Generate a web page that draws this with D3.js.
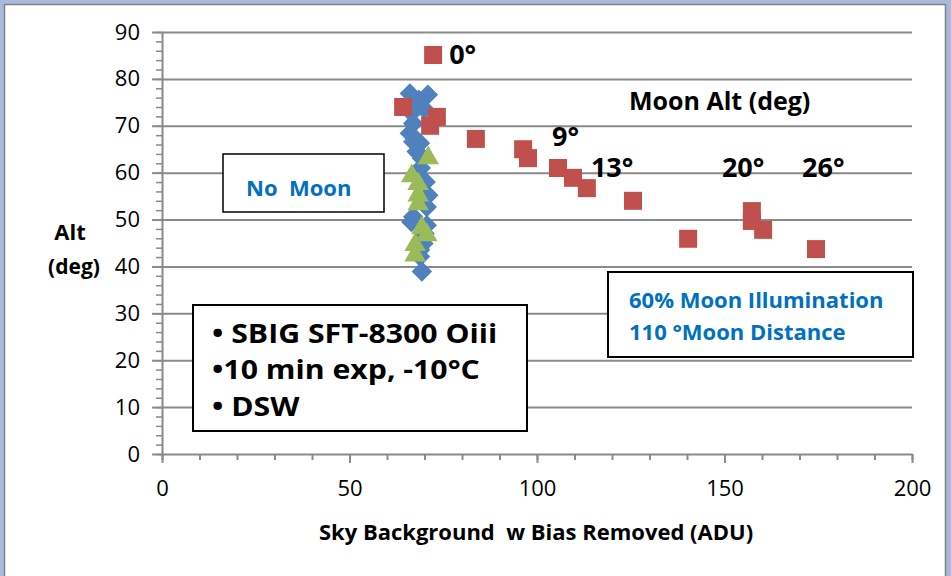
<!DOCTYPE html>
<html>
<head>
<meta charset="utf-8">
<script src="https://cdn.jsdelivr.net/npm/d3@7"></script>
<style>
  html, body { margin: 0; padding: 0; background: #ffffff; }
  svg text { font-family: "Open Sans", "Noto Sans", sans-serif; white-space: pre; }
</style>
</head>
<body>
<svg id="chart" width="951" height="576"></svg>
<script>
// Sky background vs altitude: no-moon runs and moonlit runs
const noMoonX = [66.1, 70.9, 68.5, 67.9, 70.0, 66.6, 67.0, 66.1, 67.0, 68.8, 67.9, 69.3, 69.0, 70.3, 71.0, 70.6, 67.0, 66.5, 70.6, 70.0, 69.7, 68.8, 68.8, 69.3];
const noMoonY = [76.9, 76.6, 75.5, 74.9, 73.5, 72.7, 70.5, 68.4, 66.6, 66.3, 64.5, 63.1, 61.0, 58.0, 55.2, 52.7, 50.6, 49.5, 48.8, 47.0, 44.9, 43.5, 42.1, 38.9];

const moonX = [72.3, 64.3, 73.3, 71.5, 83.7, 96.3, 97.6, 105.6, 109.6, 113.3, 125.6, 140.3, 157.3, 157.3, 160.3, 174.4];
const moonY = [85.1, 74.0, 71.9, 70.0, 67.2, 65.0, 63.1, 61.0, 58.9, 56.7, 54.0, 45.9, 51.8, 49.7, 47.8, 43.7];

const noMoon2X = [71.0, 66.6, 68.3, 68.3, 68.3, 69.3, 70.6, 67.5, 67.5];
const noMoon2Y = [63.1, 59.3, 57.6, 55.2, 53.3, 48.2, 46.7, 44.6, 42.4];

// Moon altitude annotations placed beside selected moonlit points
const moonAltLabels = ["0°", "9°", "13°", "20°", "26°"];
const moonAltAtX = [72.3, 97.6, 113.3, 157.3, 174.4];
const moonAltAtY = [85.1, 63.1, 56.7, 49.7, 43.7];

const xTicks = [0, 50, 100, 150, 200];
const yTicks = [0, 10, 20, 30, 40, 50, 60, 70, 80, 90];

const svg = d3.select("#chart");

// frame
svg.append("rect").attr("x", 0).attr("y", 0).attr("width", 951).attr("height", 576).attr("fill", "#a7bbdf");
svg.append("rect").attr("x", 4.5).attr("y", 4.5).attr("width", 941).attr("height", 590)
  .attr("fill", "#ffffff").attr("stroke", "#7f7f7f").attr("stroke-width", 1.5);

const plot = { left: 162, right: 912, top: 32, bottom: 454 };
const x = d3.scaleLinear().domain([0, 200]).range([plot.left, plot.right]);
const y = d3.scaleLinear().domain([0, 90]).range([plot.bottom, plot.top]);

const gridColor = "#8a8a8a";
const labelFont = "'Open Sans', sans-serif";

// horizontal gridlines
svg.append("g")
  .attr("transform", `translate(${plot.left},0)`)
  .call(d3.axisLeft(y).tickValues(yTicks.filter(d => d > 0)).tickSize(-(plot.right - plot.left)).tickFormat(""))
  .call(g => g.select(".domain").remove())
  .call(g => g.selectAll("line").attr("stroke", gridColor).attr("stroke-width", 2));

// y axis minor ticks
svg.append("g")
  .attr("transform", `translate(${plot.left},0)`)
  .call(d3.axisLeft(y).tickValues(d3.range(0, 91, 2)).tickSize(6).tickFormat(""))
  .call(g => g.select(".domain").remove())
  .call(g => g.selectAll("line").attr("stroke", gridColor).attr("stroke-width", 1.5));

// y axis major
svg.append("g")
  .attr("transform", `translate(${plot.left},0)`)
  .call(d3.axisLeft(y).tickValues(yTicks).tickSize(10).tickSizeOuter(0).tickPadding(12))
  .call(g => g.select(".domain").attr("stroke", gridColor).attr("stroke-width", 2))
  .call(g => g.selectAll("line").attr("stroke", gridColor).attr("stroke-width", 2))
  .call(g => g.selectAll("text").attr("font-size", 22).attr("fill", "#000")
    .style("font-family", labelFont));

// x axis minor ticks
svg.append("g")
  .attr("transform", `translate(0,${plot.bottom})`)
  .call(d3.axisBottom(x).tickValues(d3.range(0, 201, 10)).tickSize(6).tickFormat(""))
  .call(g => g.select(".domain").remove())
  .call(g => g.selectAll("line").attr("stroke", gridColor).attr("stroke-width", 2));

// x axis major
svg.append("g")
  .attr("transform", `translate(0,${plot.bottom})`)
  .call(d3.axisBottom(x).tickValues(xTicks).tickSize(9).tickSizeOuter(0).tickPadding(17))
  .call(g => g.select(".domain").attr("stroke", gridColor).attr("stroke-width", 2))
  .call(g => g.selectAll("line").attr("stroke", gridColor).attr("stroke-width", 2))
  .call(g => g.selectAll("text").attr("font-size", 22).attr("fill", "#000")
    .style("font-family", labelFont));

// axis titles
svg.append("text").attr("x", 536).attr("y", 540).attr("text-anchor", "middle")
  .attr("font-size", 22).attr("font-weight", "bold").attr("fill", "#000")
  .text("Sky Background  w Bias Removed (ADU)");
svg.append("text").attr("x", 70).attr("y", 240).attr("text-anchor", "middle")
  .attr("font-size", 22).attr("font-weight", "bold").attr("fill", "#000").text("Alt");
svg.append("text").attr("x", 74).attr("y", 274).attr("text-anchor", "middle")
  .attr("font-size", 21).attr("font-weight", "bold").attr("fill", "#000").text("(deg)");

// text boxes
function box(x0, y0, w, h, sw) {
  svg.append("rect").attr("x", x0).attr("y", y0).attr("width", w).attr("height", h)
    .attr("fill", "#fff").attr("stroke", "#000").attr("stroke-width", sw);
}
box(223, 154, 161, 58, 1.5);
svg.append("text").attr("x", 246).attr("y", 196).attr("font-size", 22).attr("font-weight", "bold")
  .attr("fill", "#0070c0").text("No  Moon");

box(193, 305, 334, 126, 2);
const infoLines = ["• SBIG SFT-8300 Oiii", "•10 min exp, -10°C", "• DSW"];
svg.append("g")
  .attr("transform", "translate(212,0) scale(1.12,1)")
  .selectAll("text").data(infoLines).join("text")
  .attr("x", 0).attr("y", (d, i) => 343 + i * 36.5)
  .attr("font-size", 27).attr("font-weight", "bold").attr("fill", "#000").text(d => d);

box(608, 272, 305, 85, 2);
const moonInfo = ["60% Moon Illumination", "110 °Moon Distance"];
svg.selectAll("text.minfo").data(moonInfo).join("text").attr("class", "minfo")
  .attr("x", 629).attr("y", (d, i) => 308 + i * 32)
  .attr("font-size", 22).attr("font-weight", "bold").attr("fill", "#0070c0").text(d => d);

// markers
const diamond = d3.symbol().type(d3.symbolSquare).size(14.5 * 14.5)();
const square = d3.symbol().type(d3.symbolSquare).size(18 * 18)();
const triangle = d3.symbol().type(d3.symbolTriangle).size(200)();

svg.append("g").selectAll("path").data(d3.zip(noMoonX, noMoonY)).join("path")
  .attr("d", diamond)
  .attr("transform", d => `translate(${x(d[0])},${y(d[1])}) rotate(45)`)
  .attr("fill", "#4f81bd");

svg.append("g").selectAll("path").data(d3.zip(moonX, moonY)).join("path")
  .attr("d", square)
  .attr("transform", d => `translate(${x(d[0])},${y(d[1])})`)
  .attr("fill", "#c0504d");

svg.append("g").selectAll("path").data(d3.zip(noMoon2X, noMoon2Y)).join("path")
  .attr("d", triangle)
  .attr("transform", d => `translate(${x(d[0])},${y(d[1])})`)
  .attr("fill", "#9bbb59");

// moon altitude annotations
svg.append("text").attr("x", 629).attr("y", 110).attr("font-size", 25).attr("font-weight", "bold")
  .attr("fill", "#000").text("Moon Alt (deg)");
const altOffsets = [[16, 9], [24, -12], [4, -11], [-30, -44], [-14, -72]];
svg.selectAll("text.alt").data(moonAltLabels).join("text").attr("class", "alt")
  .attr("x", (d, i) => x(moonAltAtX[i]) + altOffsets[i][0])
  .attr("y", (d, i) => y(moonAltAtY[i]) + altOffsets[i][1])
  .attr("font-size", 27).attr("font-weight", "bold").attr("fill", "#000").text(d => d);
</script>
</body>
</html>
